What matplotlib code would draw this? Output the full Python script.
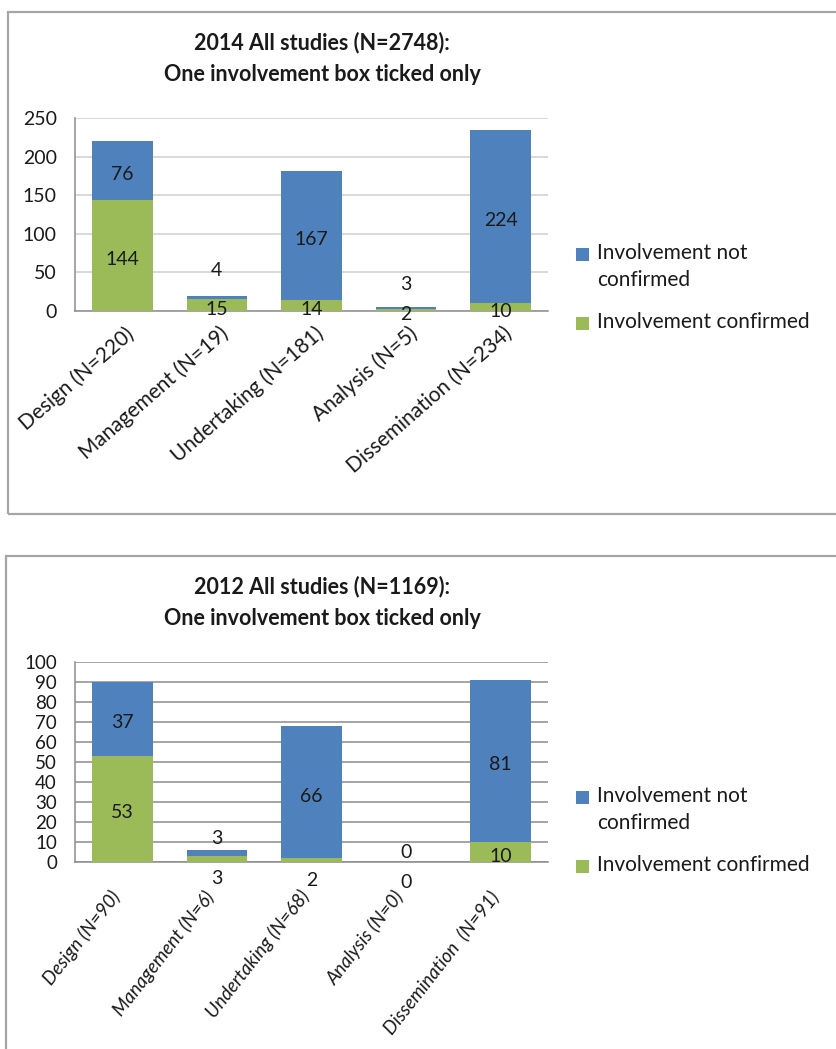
import matplotlib
matplotlib.use("Agg")
import matplotlib.pyplot as plt
from matplotlib.patches import Rectangle
from matplotlib.transforms import ScaledTranslation
import numpy as np

plt.rcParams['font.family'] = ['Lato', 'DejaVu Sans']

# ---- data -------------------------------------------------------------
title_2014 = "2014 All studies (N=2748):\nOne involvement box ticked only"
categories_2014 = ["Design (N=220)", "Management (N=19)", "Undertaking (N=181)",
                   "Analysis (N=5)", "Dissemination (N=234)"]
confirmed_2014 = [144, 15, 14, 2, 10]
not_confirmed_2014 = [76, 4, 167, 3, 224]
yticks_2014 = [0, 50, 100, 150, 200, 250]

title_2012 = "2012 All studies (N=1169):\nOne involvement box ticked only"
categories_2012 = ["Design (N=90)", "Management (N=6)", "Undertaking (N=68)",
                   "Analysis (N=0)", "Dissemination  (N=91)"]
confirmed_2012 = [53, 3, 2, 0, 10]
not_confirmed_2012 = [37, 3, 66, 0, 81]
yticks_2012 = [0, 10, 20, 30, 40, 50, 60, 70, 80, 90, 100]

legend_labels = ["Involvement not\nconfirmed", "Involvement confirmed"]

BLUE = "#4F81BD"
GREEN = "#9BBB59"
INK = "#1a1a1a"

W, H = 836, 1049
fig = plt.figure(figsize=(W / 100, H / 100), dpi=100)


def fx(px):
    return px / W


def fy(py):
    return 1 - py / H


def draw_panel(frame, axes_box, title_y, title, cats, conf, notc, yticks,
               grid_color, label_shift_conf, label_shift_not, legend_y,
               rot, italic, xlab_offset, xlab_size, ytick_size):
    # outer frame
    x0, y0, x1, y1 = frame
    fig.add_artist(Rectangle((fx(x0), fy(y1)), fx(x1) - fx(x0), fy(y0) - fy(y1),
                             transform=fig.transFigure, fill=False,
                             edgecolor="#a6a6a6", linewidth=1.6))
    # title
    fig.text(fx(322), fy(title_y), title, ha="center", va="top",
             fontsize=15.5, fontweight="bold", linespacing=1.6, color=INK)

    l, t, r, b = axes_box
    ax = fig.add_axes([fx(l), fy(b), fx(r) - fx(l), fy(t) - fy(b)])
    x = np.arange(len(cats))
    width = 0.64
    ax.bar(x, conf, width, color=GREEN, zorder=3)
    ax.bar(x, notc, width, bottom=conf, color=BLUE, zorder=3)

    ax.set_xlim(-0.5, len(cats) - 0.5)
    ax.set_ylim(yticks[0], yticks[-1])
    ax.set_yticks(yticks)
    ax.yaxis.grid(True, color=grid_color, linewidth=1.1, zorder=0)
    ax.set_axisbelow(True)
    for s in ("top", "right"):
        ax.spines[s].set_visible(False)
    for s in ("left", "bottom"):
        ax.spines[s].set_color("#8c8c8c")
        ax.spines[s].set_linewidth(1.1)
    ax.tick_params(axis="both", length=0, colors=INK)
    ax.tick_params(axis="y", pad=13, labelsize=ytick_size)

    ax.set_xticks(x)
    ax.set_xticklabels(cats, rotation=rot, ha="right", va="center",
                       rotation_mode="anchor", fontsize=xlab_size,
                       style="italic" if italic else "normal")
    dx, dy = xlab_offset
    shift = ScaledTranslation(dx / 100, dy / 100, fig.dpi_scale_trans)
    ax.tick_params(axis="x", pad=0)
    for lbl in ax.get_xticklabels():
        lbl.set_transform(lbl.get_transform() + shift)

    # value labels
    for i in range(len(cats)):
        c_mid = conf[i] / 2
        n_mid = conf[i] + notc[i] / 2
        ax.annotate(str(conf[i]), (x[i], c_mid), xytext=(0, label_shift_conf[i]),
                    textcoords="offset pixels", ha="center", va="center",
                    fontsize=14, color=INK, zorder=5)
        ax.annotate(str(notc[i]), (x[i], n_mid), xytext=(0, label_shift_not[i]),
                    textcoords="offset pixels", ha="center", va="center",
                    fontsize=14, color=INK, zorder=5)

    # legend
    by, gy = legend_y
    sq = 13
    for (yy, col, txt) in ((by, BLUE, legend_labels[0]), (gy, GREEN, legend_labels[1])):
        fig.add_artist(Rectangle((fx(576), fy(yy + sq / 2)), fx(sq), sq / H,
                                 transform=fig.transFigure, facecolor=col,
                                 edgecolor="none"))
        fig.text(fx(597), fy(yy - 11), txt, ha="left", va="top",
                 fontsize=15, linespacing=1.45, color=INK)
    return ax


draw_panel(frame=(8, 12, 840, 514), axes_box=(75, 118, 548, 311), title_y=32,
           title=title_2014, cats=categories_2014, conf=confirmed_2014,
           notc=not_confirmed_2014, yticks=yticks_2014, grid_color="#d0d0d0",
           label_shift_conf=[-4, -4, -4, -4, -4],
           label_shift_not=[-4, 27, -4, 24, -4],
           legend_y=(254, 323), rot=41, italic=False,
           xlab_offset=(9, -20), xlab_size=15, ytick_size=14)

draw_panel(frame=(6, 556, 840, 1070), axes_box=(75, 662, 548, 862), title_y=576,
           title=title_2012, cats=categories_2012, conf=confirmed_2012,
           notc=not_confirmed_2012, yticks=yticks_2012, grid_color="#8c8c8c",
           label_shift_conf=[-4, -20, -20, -20, -4],
           label_shift_not=[-4, 15, -4, 9, -4],
           legend_y=(797, 866), rot=52, italic=True,
           xlab_offset=(-6, -31), xlab_size=13.5, ytick_size=13.5)

fig.savefig("out.png", dpi=100, facecolor="white")
